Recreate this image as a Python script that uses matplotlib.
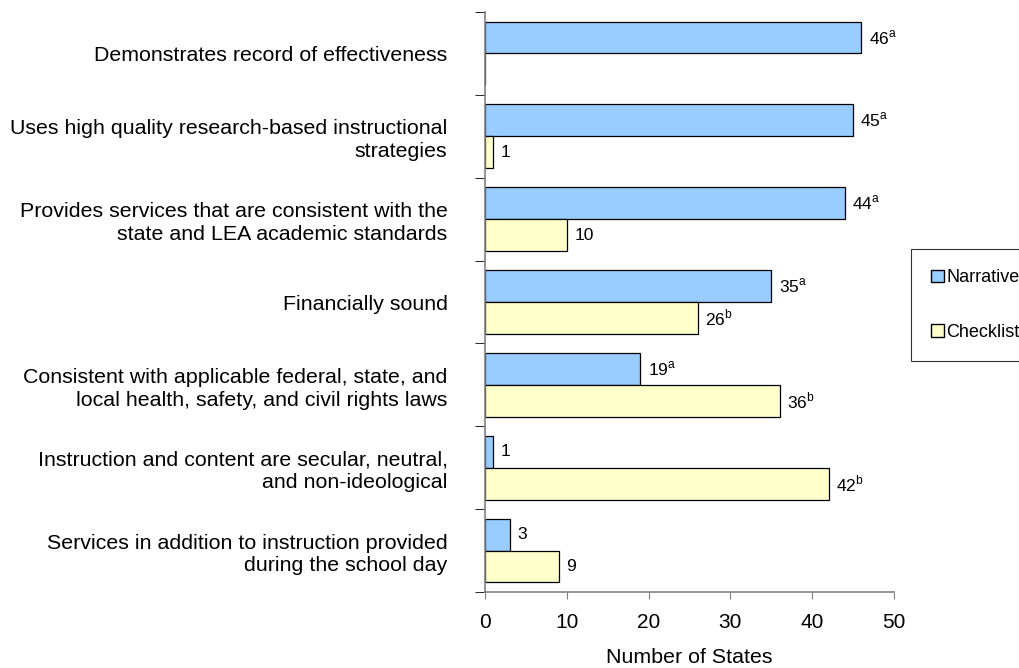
import numpy as np
import matplotlib
matplotlib.use('Agg')
import matplotlib.pyplot as plt
from matplotlib.patches import Patch

plt.rcParams['font.family'] = ['Liberation Sans', 'DejaVu Sans']

# Data
categories = [
    "Demonstrates record of effectiveness",
    "Uses high quality research-based instructional\nstrategies",
    "Provides services that are consistent with the\nstate and LEA academic standards",
    "Financially sound",
    "Consistent with applicable federal, state, and\nlocal health, safety, and civil rights laws",
    "Instruction and content are secular, neutral,\nand non-ideological",
    "Services in addition to instruction provided\nduring the school day",
]
narrative = [46, 45, 44, 35, 19, 1, 3]
checklist = [0, 1, 10, 26, 36, 42, 9]
narrative_note = ['a', 'a', 'a', 'a', 'a', '', '']
checklist_note = ['', '', '', 'b', 'b', 'b', '']

blue = '#99CCFF'
yellow = '#FFFFCC'
axis_col = '#808080'

fig = plt.figure(figsize=(10.2, 6.68), dpi=100)
ax = fig.add_axes([0.4755, 0.1138, 0.4010, 0.8682])

n = len(categories)
y = np.arange(n)
h = 0.385

ax.barh(y - h / 2, narrative, height=h, color=blue, edgecolor='black', linewidth=0.9)
ax.barh(y + h / 2, checklist, height=h, color=yellow, edgecolor='black', linewidth=0.9)

def label(val, note, ypos):
    if val == 0:
        return
    txt = str(val) if not note else str(val) + r'$^{\mathregular{' + note + '}}$'
    ax.text(val + 0.9, ypos, txt, va='center', ha='left', fontsize=12.5)

for i in range(n):
    label(narrative[i], narrative_note[i], y[i] - h / 2)
    label(checklist[i], checklist_note[i], y[i] + h / 2)

ax.set_xlim(0, 50)
ax.set_ylim(n - 0.5, -0.5)
ax.set_xticks([0, 10, 20, 30, 40, 50])
ax.tick_params(axis='x', labelsize=15, length=5, color=axis_col, pad=10)

ax.set_yticks(y)
ax.set_yticklabels(categories, fontsize=15.4, linespacing=1.25)
ax.set_yticks(np.arange(n + 1) - 0.5, minor=True)
ax.tick_params(axis='y', which='major', length=0, pad=27)
ax.tick_params(axis='y', which='minor', length=7, color='black')

ax.set_xlabel('Number of States', fontsize=15.4, labelpad=12)

for s in ['top', 'right']:
    ax.spines[s].set_visible(False)
for s in ['left', 'bottom']:
    ax.spines[s].set_color(axis_col)
    ax.spines[s].set_linewidth(1.2)

handles = [Patch(facecolor=blue, edgecolor='black', label='Narrative'),
           Patch(facecolor=yellow, edgecolor='black', label='Checklist')]
leg = fig.legend(handles=handles, loc='center left', bbox_to_anchor=(0.893, 0.543),
                 fontsize=13, frameon=True, fancybox=False, edgecolor='black',
                 handlelength=0.72, handleheight=0.72, handletextpad=0.15,
                 labelspacing=2.1, borderpad=1.1, borderaxespad=0)
leg.get_frame().set_linewidth(0.8)

fig.savefig('out.png', dpi=100)
